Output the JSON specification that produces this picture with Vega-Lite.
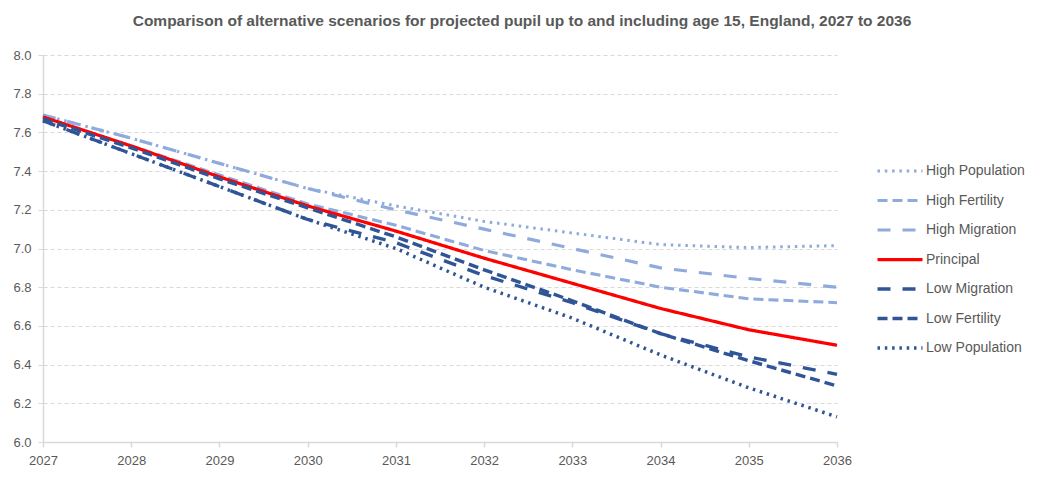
{
  "$schema": "https://vega.github.io/schema/vega-lite/v6.json",
  "width": 794,
  "height": 387,
  "autosize": "none",
  "padding": {"left": 43, "top": 55, "right": 211, "bottom": 40},
  "background": "white",
  "title": {
    "text": "Comparison of alternative scenarios for projected pupil up to and including age 15, England, 2027 to 2036",
    "font": "Liberation Sans",
    "fontSize": 15.5,
    "fontWeight": "bold",
    "color": "#595959",
    "anchor": "middle",
    "frame": "group",
    "dx": 82,
    "offset": 20
  },
  "config": {
    "view": {"stroke": null},
    "font": "Liberation Sans"
  },
  "data": {
    "values": [
      {"year": 2027, "scenario": "High Population", "value": 7.69},
      {"year": 2028, "scenario": "High Population", "value": 7.57},
      {"year": 2029, "scenario": "High Population", "value": 7.44},
      {"year": 2030, "scenario": "High Population", "value": 7.31},
      {"year": 2031, "scenario": "High Population", "value": 7.22},
      {"year": 2032, "scenario": "High Population", "value": 7.14},
      {"year": 2033, "scenario": "High Population", "value": 7.08},
      {"year": 2034, "scenario": "High Population", "value": 7.02},
      {"year": 2035, "scenario": "High Population", "value": 7.005},
      {"year": 2036, "scenario": "High Population", "value": 7.015},
      {"year": 2027, "scenario": "High Fertility", "value": 7.68},
      {"year": 2028, "scenario": "High Fertility", "value": 7.53},
      {"year": 2029, "scenario": "High Fertility", "value": 7.38},
      {"year": 2030, "scenario": "High Fertility", "value": 7.23},
      {"year": 2031, "scenario": "High Fertility", "value": 7.12},
      {"year": 2032, "scenario": "High Fertility", "value": 6.99},
      {"year": 2033, "scenario": "High Fertility", "value": 6.89},
      {"year": 2034, "scenario": "High Fertility", "value": 6.80},
      {"year": 2035, "scenario": "High Fertility", "value": 6.74},
      {"year": 2036, "scenario": "High Fertility", "value": 6.72},
      {"year": 2027, "scenario": "High Migration", "value": 7.69},
      {"year": 2028, "scenario": "High Migration", "value": 7.57},
      {"year": 2029, "scenario": "High Migration", "value": 7.44},
      {"year": 2030, "scenario": "High Migration", "value": 7.31},
      {"year": 2031, "scenario": "High Migration", "value": 7.20},
      {"year": 2032, "scenario": "High Migration", "value": 7.10},
      {"year": 2033, "scenario": "High Migration", "value": 7.00},
      {"year": 2034, "scenario": "High Migration", "value": 6.90},
      {"year": 2035, "scenario": "High Migration", "value": 6.845},
      {"year": 2036, "scenario": "High Migration", "value": 6.80},
      {"year": 2027, "scenario": "Principal", "value": 7.68},
      {"year": 2028, "scenario": "Principal", "value": 7.53},
      {"year": 2029, "scenario": "Principal", "value": 7.37},
      {"year": 2030, "scenario": "Principal", "value": 7.22},
      {"year": 2031, "scenario": "Principal", "value": 7.09},
      {"year": 2032, "scenario": "Principal", "value": 6.95},
      {"year": 2033, "scenario": "Principal", "value": 6.82},
      {"year": 2034, "scenario": "Principal", "value": 6.69},
      {"year": 2035, "scenario": "Principal", "value": 6.58},
      {"year": 2036, "scenario": "Principal", "value": 6.50},
      {"year": 2027, "scenario": "Low Migration", "value": 7.66},
      {"year": 2028, "scenario": "Low Migration", "value": 7.49},
      {"year": 2029, "scenario": "Low Migration", "value": 7.32},
      {"year": 2030, "scenario": "Low Migration", "value": 7.15},
      {"year": 2031, "scenario": "Low Migration", "value": 7.03},
      {"year": 2032, "scenario": "Low Migration", "value": 6.86},
      {"year": 2033, "scenario": "Low Migration", "value": 6.72},
      {"year": 2034, "scenario": "Low Migration", "value": 6.56},
      {"year": 2035, "scenario": "Low Migration", "value": 6.44},
      {"year": 2036, "scenario": "Low Migration", "value": 6.35},
      {"year": 2027, "scenario": "Low Fertility", "value": 7.67},
      {"year": 2028, "scenario": "Low Fertility", "value": 7.52},
      {"year": 2029, "scenario": "Low Fertility", "value": 7.36},
      {"year": 2030, "scenario": "Low Fertility", "value": 7.21},
      {"year": 2031, "scenario": "Low Fertility", "value": 7.06},
      {"year": 2032, "scenario": "Low Fertility", "value": 6.89},
      {"year": 2033, "scenario": "Low Fertility", "value": 6.73},
      {"year": 2034, "scenario": "Low Fertility", "value": 6.56},
      {"year": 2035, "scenario": "Low Fertility", "value": 6.42},
      {"year": 2036, "scenario": "Low Fertility", "value": 6.29},
      {"year": 2027, "scenario": "Low Population", "value": 7.66},
      {"year": 2028, "scenario": "Low Population", "value": 7.49},
      {"year": 2029, "scenario": "Low Population", "value": 7.32},
      {"year": 2030, "scenario": "Low Population", "value": 7.15},
      {"year": 2031, "scenario": "Low Population", "value": 7.00},
      {"year": 2032, "scenario": "Low Population", "value": 6.80},
      {"year": 2033, "scenario": "Low Population", "value": 6.64},
      {"year": 2034, "scenario": "Low Population", "value": 6.45},
      {"year": 2035, "scenario": "Low Population", "value": 6.28},
      {"year": 2036, "scenario": "Low Population", "value": 6.13}
    ]
  },
  "mark": {"type": "line", "strokeCap": "butt", "strokeJoin": "round"},
  "encoding": {
    "x": {
      "field": "year",
      "type": "quantitative",
      "scale": {"domain": [2027, 2036], "nice": false, "zero": false},
      "axis": {
        "title": null,
        "values": [2027, 2028, 2029, 2030, 2031, 2032, 2033, 2034, 2035, 2036],
        "format": "d",
        "grid": false,
        "labelFlush": false,
        "domainColor": "#D9D9D9",
        "domainWidth": 1.5,
        "tickColor": "#D9D9D9",
        "tickSize": 5,
        "tickWidth": 1.5,
        "labelColor": "#595959",
        "labelFontSize": 13,
        "labelPadding": 7
      }
    },
    "y": {
      "field": "value",
      "type": "quantitative",
      "scale": {"domain": [6.0, 8.0], "nice": false, "zero": false},
      "axis": {
        "title": null,
        "values": [6.0, 6.2, 6.4, 6.6, 6.8, 7.0, 7.2, 7.4, 7.6, 7.8, 8.0],
        "format": ".1f",
        "grid": true,
        "labelFlush": false,
        "gridColor": "#D9D9D9",
        "gridDash": [4, 3],
        "gridWidth": 1,
        "domainColor": "#D9D9D9",
        "domainWidth": 1.5,
        "tickColor": "#D9D9D9",
        "tickSize": 5,
        "labelColor": "#595959",
        "labelFontSize": 13,
        "labelPadding": 7
      }
    },
    "color": {
      "field": "scenario",
      "type": "nominal",
      "scale": {
        "domain": ["High Population", "High Fertility", "High Migration", "Principal", "Low Migration", "Low Fertility", "Low Population"],
        "range": ["#8FAADC", "#8FAADC", "#8FAADC", "#FF0000", "#2F5597", "#2F5597", "#2F5597"]
      },
      "legend": {
        "title": null,
        "orient": "none",
        "legendX": 844,
        "legendY": 103,
        "symbolType": "M-2,0H2",
        "symbolSize": 506,
        "symbolStrokeWidth": 3.5,
        "labelColor": "#595959",
        "labelFontSize": 14,
        "labelOffset": 13,
        "rowPadding": 9.5
      }
    },
    "strokeDash": {
      "field": "scenario",
      "type": "nominal",
      "scale": {
        "domain": ["High Population", "High Fertility", "High Migration", "Principal", "Low Migration", "Low Fertility", "Low Population"],
        "range": [[2.5, 4.8], [10, 5], [13, 12], [1, 0], [13, 12], [10, 5], [2.5, 4.8]]
      }
    },
    "strokeWidth": {
      "field": "scenario",
      "type": "nominal",
      "scale": {
        "domain": ["High Population", "High Fertility", "High Migration", "Principal", "Low Migration", "Low Fertility", "Low Population"],
        "range": [3, 3.5, 3.5, 4, 3.5, 3.5, 3]
      }
    }
  }
}
